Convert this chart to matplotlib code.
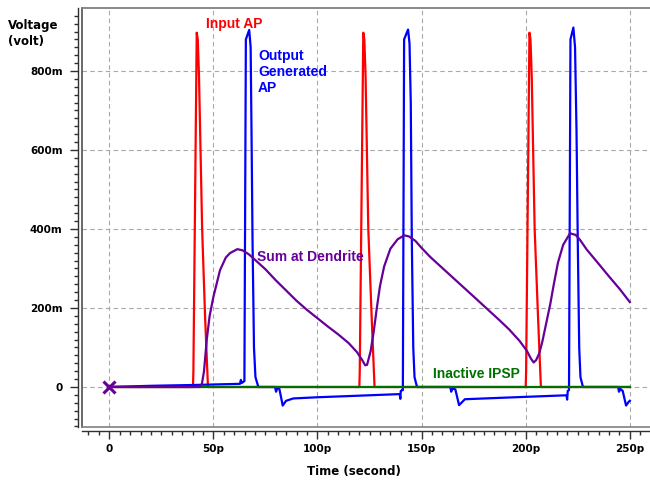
import numpy as np
import matplotlib
matplotlib.use("Agg")
import matplotlib.pyplot as plt
from matplotlib.ticker import MultipleLocator, FixedLocator

# time in ps, voltage in mV
# input AP (red)
t_in = [0, 40.2, 40.4, 42.0, 42.5, 43.1, 44.6, 46.0, 47.4, 120.1, 120.3, 122.0, 122.5, 123.1, 124.4, 126.0, 127.4,
        200.0, 200.2, 201.8, 202.3, 202.9, 204.3, 205.9, 207.3, 250]
v_in = [0, 0, 40, 897, 880, 786, 400, 180, 0, 0, 40, 897, 880, 786, 400, 180, 0,
        0, 40, 897, 880, 786, 400, 180, 0, 0]

# output AP (blue)
t_out = [0, 20, 40, 55, 62.8, 63.2, 63.6, 64.9, 65.6, 67.2, 67.9, 68.4, 68.8, 69.5, 70.2, 71.6,
         79.6, 80.1, 80.7, 81.7, 83.3, 84.9, 88.4, 100, 120, 139.5, 139.8, 140.0, 140.8,
         141.0, 141.6, 143.5, 144.2, 144.8, 145.3, 146.0, 146.6, 147.8,
         163.8, 164.2, 164.8, 166.2, 168.0, 170.8, 190, 219.6, 219.9, 220.2, 220.8,
         221.5, 222.9, 223.7, 224.4, 225.0, 225.7, 226.3, 227.5,
         244.4, 244.8, 245.5, 246.6, 248.2, 249.4, 250]
v_out = [0, 3, 5, 7, 8, 18, 10, 15, 880, 904, 860, 600, 372, 100, 25, 0,
         0, -12, -3, -5, -47, -35, -29, -26, -22, -18, -30, -10, -8,
         -8, 880, 905, 870, 720, 372, 100, 25, 0,
         0, -12, -4, -6, -46, -31, -27, -21, -32, -10, -8,
         880, 910, 860, 650, 372, 100, 25, 0,
         0, -12, -5, -10, -47, -38, -35]

# sum at dendrite (purple)
t_sum = [0, 43.5, 44.5, 45.5, 46.8, 48.2, 50, 53.2, 56, 58, 61.5, 64, 67, 70, 75, 80, 85, 90, 95, 100,
         105, 110, 115, 119, 121.5, 122.9, 123.8, 125.5, 127, 128.5, 130, 132, 135, 138.5, 141.7,
         144, 147, 150, 154, 160, 165, 170, 175, 181, 187, 192, 197, 200.5, 202.5, 203.8,
         205, 206.5, 208, 210, 211.8, 213.5, 215.5, 218, 221.3, 224, 226, 229.3, 235, 240, 245.3, 250]
v_sum = [0, 0, 8, 40, 119, 180, 228, 296, 328, 339, 349, 346, 336, 322, 298, 270, 244, 218, 195, 174,
         153, 133, 111, 88, 68, 55, 56, 90, 140, 200, 255, 305, 350, 374, 384,
         381, 370, 352, 330, 301, 277, 253, 229, 200, 171, 146, 117, 92, 72, 62,
         68, 85, 115, 165, 210, 260, 315, 360, 389, 385, 373, 348, 312, 280, 247, 215]

# inactive IPSP (green)
t_ipsp = [0, 250]
v_ipsp = [0, 0]

x_ticks = [0, 50, 100, 150, 200, 250]
x_labels = ["0", "50p", "100p", "150p", "200p", "250p"]
y_ticks = [0, 200, 400, 600, 800]
y_labels = ["0", "200m", "400m", "600m", "800m"]

fig = plt.figure(figsize=(6.5, 4.83), dpi=100)
ax = fig.add_axes([82 / 650, 1 - 427 / 483, 568 / 650, 419 / 483])
ax.set_xlim(-13.1, 259.7)
ax.set_ylim(-101.3, 959.5)

ax.plot(t_in, v_in, color="#ff0000", lw=1.6, zorder=3)
ax.plot(t_out, v_out, color="#0000ff", lw=1.6, zorder=4)
ax.plot(t_ipsp, v_ipsp, color="#007000", lw=1.6, zorder=5)
ax.plot(t_sum, v_sum, color="#660099", lw=1.6, zorder=6)
ax.plot([0], [0], marker="x", color="#660099", ms=9, mew=2.2, zorder=7)

ax.grid(True, which="major", ls=(0, (4, 3)), color="#a8a8a8", lw=0.8)

ax.xaxis.set_major_locator(FixedLocator(x_ticks))
ax.set_xticklabels(x_labels)
ax.xaxis.set_minor_locator(MultipleLocator(5))
ax.yaxis.set_major_locator(FixedLocator(y_ticks))
ax.set_yticklabels(y_labels)
ax.yaxis.set_minor_locator(MultipleLocator(20))

for sp in ["left", "bottom"]:
    ax.spines[sp].set_position(("outward", 3))
    ax.spines[sp].set_color("#303030")
    ax.spines[sp].set_linewidth(1.0)
ax.spines["right"].set_visible(False)
ax.spines["top"].set_color("#808080")
ax.spines["top"].set_linewidth(1.3)
# inner frame lines
ax.plot([0, 0], [0, 1], transform=ax.transAxes, color="#505050", lw=1.2, clip_on=False)
ax.plot([0, 1], [0, 0], transform=ax.transAxes, color="#808080", lw=1.2, clip_on=False)

ax.tick_params(which="major", direction="out", length=6, width=1, color="#303030", pad=5)
ax.tick_params(which="minor", direction="out", length=3, width=1, color="#303030")
ax.tick_params(axis="x", which="major", pad=3)
for lab in ax.get_xticklabels() + ax.get_yticklabels():
    lab.set_fontweight("bold")
    lab.set_fontsize(7.5)

fig.text(8 / 650, 1 - 19 / 483, "Voltage\n(volt)", fontsize=8.5, fontweight="bold",
         ha="left", va="top", linespacing=1.3)
fig.text(353.5 / 650, 1 - 471.5 / 483, "Time (second)", fontsize=8.5, fontweight="bold",
         ha="center", va="center")

lab_font = dict(family="Liberation Sans", fontsize=10, fontweight="bold")
ax.text(46.5, 919, "Input AP", color="#ff0000", ha="left", va="center", **lab_font)
ax.text(71.4, 856, "Output\nGenerated\nAP", color="#0000ff", ha="left", va="top",
        linespacing=1.2, **lab_font)
ax.text(70.8, 328, "Sum at Dendrite", color="#660099", ha="left", va="center", **lab_font)
ax.text(155.7, 33, "Inactive IPSP", color="#007000", ha="left", va="center", **lab_font)

fig.savefig("out.png", dpi=100)
